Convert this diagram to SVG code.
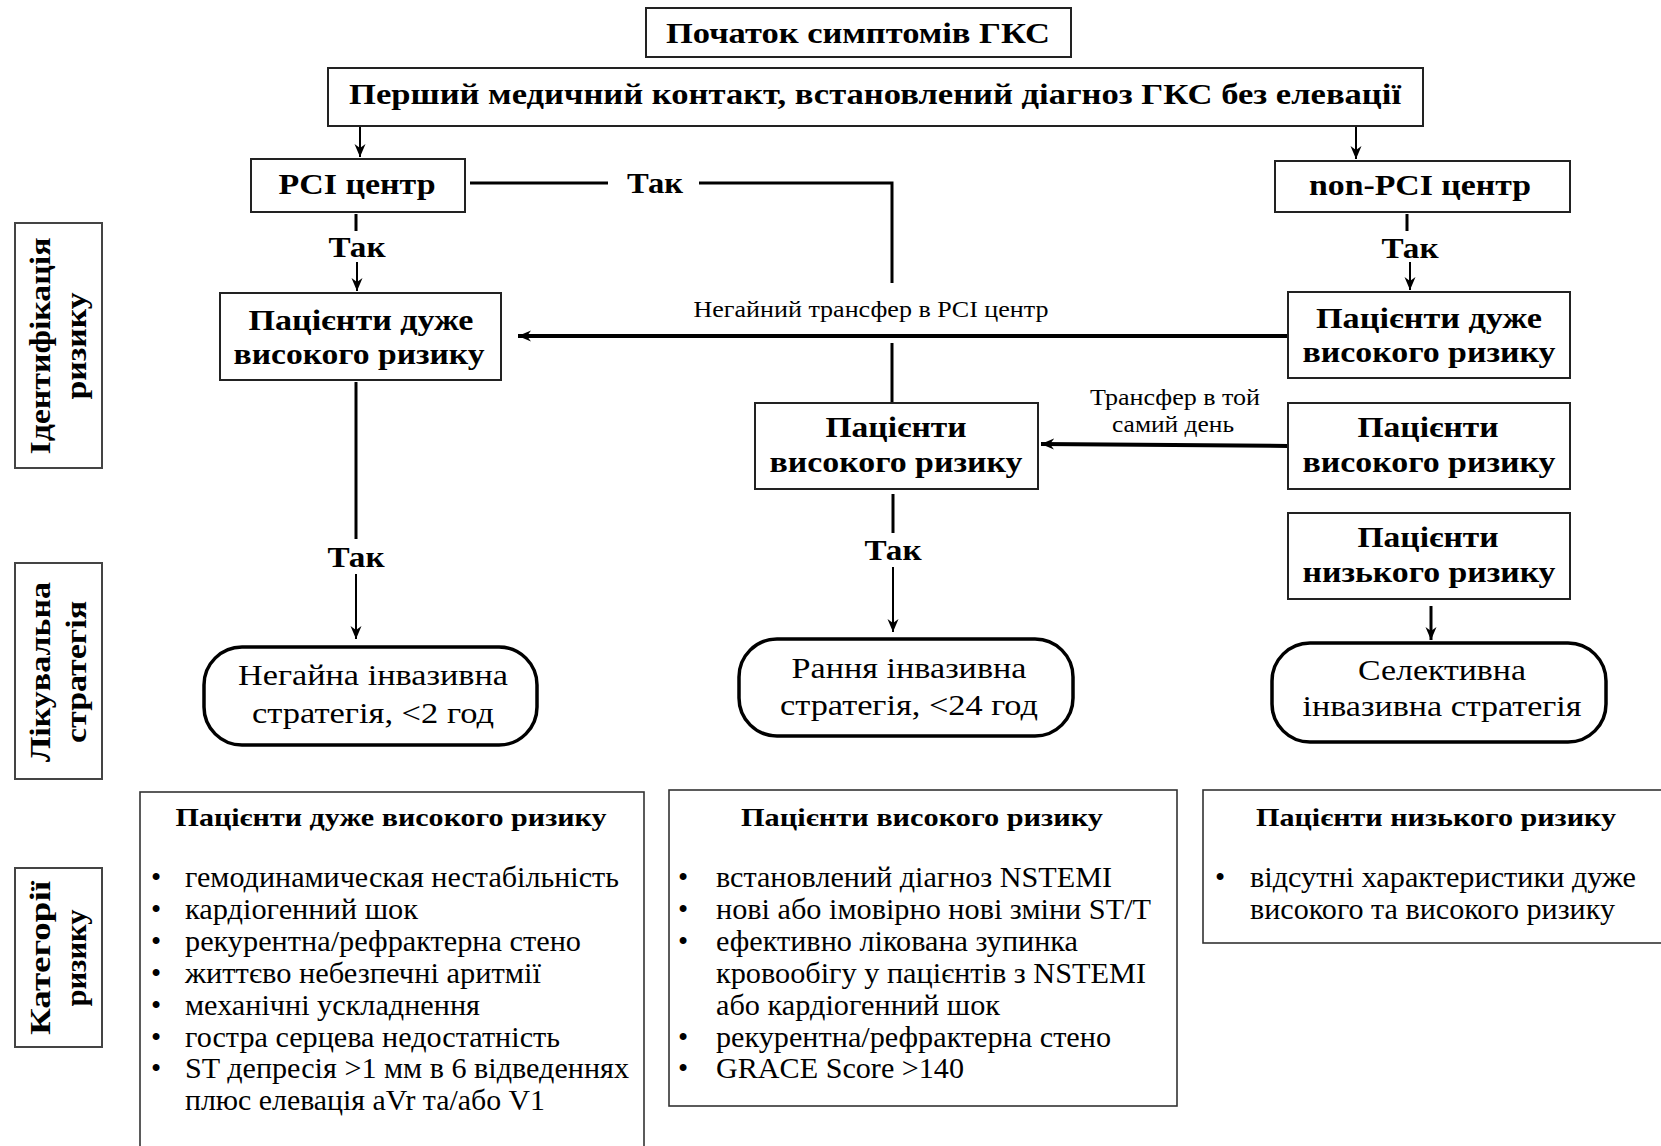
<svg xmlns="http://www.w3.org/2000/svg" width="1661" height="1146" viewBox="0 0 1661 1146">
<defs>
<style>
.box{fill:#fff;stroke:#222;stroke-width:2}
.rbox{fill:#fff;stroke:#000;stroke-width:3.5}
.cat{fill:#fff;stroke:#333;stroke-width:1.6}
.lbl{fill:#fff;stroke:#444;stroke-width:2}
text{font-family:"Liberation Serif","Times New Roman",serif;fill:#000}
.b{font-weight:bold;font-size:30px;text-anchor:middle}
.r{font-size:30px;text-anchor:middle}
.s{font-size:24px;text-anchor:middle}
.t{font-weight:bold;font-size:26px;text-anchor:middle}
.li{font-size:29px}
.v{font-weight:bold;font-size:30px;text-anchor:middle}
.c{stroke:#000;fill:none}
.w2{stroke-width:2}
.w3{stroke-width:3}
.w4{stroke-width:4}
</style>
<marker id="ah" markerUnits="userSpaceOnUse" markerWidth="14" markerHeight="12" refX="13" refY="6" orient="auto">
<path d="M0,0.5 L13,6 L0,11.5 L4,6 z" fill="#000"/>
</marker>
</defs>

<g id="connectors">
<line class="c w2" x1="360" y1="126" x2="360" y2="157" marker-end="url(#ah)"/>
<line class="c w2" x1="1356" y1="126" x2="1356" y2="159" marker-end="url(#ah)"/>
<line class="c w3" x1="356" y1="214" x2="356" y2="231"/>
<line class="c w2" x1="357" y1="262" x2="357" y2="291" marker-end="url(#ah)"/>
<line class="c w3" x1="1407" y1="214" x2="1407" y2="231"/>
<line class="c w2" x1="1410" y1="262" x2="1410" y2="290" marker-end="url(#ah)"/>
<polyline class="c w3" points="470,183 608,183"/>
<polyline class="c w3" points="699,183 892,183 892,283"/>
<line class="c w3" x1="892" y1="343" x2="892" y2="403"/>
<line class="c w4" x1="1288" y1="336" x2="518" y2="336" marker-end="url(#ah)"/>
<line class="c w4" x1="1288" y1="446" x2="1041" y2="444" marker-end="url(#ah)"/>
<line class="c w3" x1="356" y1="382" x2="356" y2="539"/>
<line class="c w2" x1="356" y1="574" x2="356" y2="639" marker-end="url(#ah)"/>
<line class="c w3" x1="893" y1="494" x2="893" y2="533"/>
<line class="c w2" x1="893" y1="567" x2="893" y2="632" marker-end="url(#ah)"/>
<line class="c w3" x1="1431" y1="606" x2="1431" y2="640" marker-end="url(#ah)"/>
<text class="b" x="655" y="193" textLength="56" lengthAdjust="spacingAndGlyphs">Так</text>
<text class="b" x="357" y="257" textLength="57" lengthAdjust="spacingAndGlyphs">Так</text>
<text class="b" x="1410" y="258" textLength="57" lengthAdjust="spacingAndGlyphs">Так</text>
<text class="b" x="356" y="567" textLength="57" lengthAdjust="spacingAndGlyphs">Так</text>
<text class="b" x="893" y="560" textLength="57" lengthAdjust="spacingAndGlyphs">Так</text>
<text class="s" x="871" y="317" textLength="355" lengthAdjust="spacingAndGlyphs">Негайний трансфер в PCI центр</text>
<text class="s" x="1175" y="405" textLength="170" lengthAdjust="spacingAndGlyphs">Трансфер в той</text>
<text class="s" x="1173" y="432" textLength="122" lengthAdjust="spacingAndGlyphs">самий день</text>
</g>

<g id="start">
<rect class="box" x="646" y="8" width="425" height="49"/>
<text class="b" x="858" y="43" textLength="384" lengthAdjust="spacingAndGlyphs">Початок симптомів ГКС</text>
</g>

<g id="first-contact">
<rect class="box" x="328" y="68" width="1095" height="58"/>
<text class="b" x="875" y="104" textLength="1052" lengthAdjust="spacingAndGlyphs">Перший медичний контакт, встановлений діагноз ГКС без елевації</text>
</g>

<g id="pci">
<rect class="box" x="251" y="159" width="214" height="53"/>
<text class="b" x="357" y="194" textLength="157" lengthAdjust="spacingAndGlyphs">PCI центр</text>
</g>

<g id="non-pci">
<rect class="box" x="1275" y="161" width="295" height="51"/>
<text class="b" x="1420" y="195" textLength="222" lengthAdjust="spacingAndGlyphs">non-PCI центр</text>
</g>

<g id="vhr-left">
<rect class="box" x="220" y="293" width="281" height="87"/>
<text class="b" x="361" y="330" textLength="225" lengthAdjust="spacingAndGlyphs">Пацієнти дуже</text>
<text class="b" x="359" y="364" textLength="251" lengthAdjust="spacingAndGlyphs">високого ризику</text>
</g>

<g id="vhr-right">
<rect class="box" x="1288" y="292" width="282" height="86"/>
<text class="b" x="1429" y="328" textLength="226" lengthAdjust="spacingAndGlyphs">Пацієнти дуже</text>
<text class="b" x="1429" y="362" textLength="253" lengthAdjust="spacingAndGlyphs">високого ризику</text>
</g>

<g id="hr-mid">
<rect class="box" x="755" y="403" width="283" height="86"/>
<text class="b" x="896" y="437" textLength="141" lengthAdjust="spacingAndGlyphs">Пацієнти</text>
<text class="b" x="896" y="472" textLength="253" lengthAdjust="spacingAndGlyphs">високого ризику</text>
</g>

<g id="hr-right">
<rect class="box" x="1288" y="403" width="282" height="86"/>
<text class="b" x="1428" y="437" textLength="141" lengthAdjust="spacingAndGlyphs">Пацієнти</text>
<text class="b" x="1429" y="472" textLength="253" lengthAdjust="spacingAndGlyphs">високого ризику</text>
</g>

<g id="lr-right">
<rect class="box" x="1288" y="513" width="282" height="86"/>
<text class="b" x="1428" y="547" textLength="141" lengthAdjust="spacingAndGlyphs">Пацієнти</text>
<text class="b" x="1429" y="582" textLength="253" lengthAdjust="spacingAndGlyphs">низького ризику</text>
</g>

<g id="strategy-immediate">
<rect class="rbox" x="204" y="647" width="333" height="98" rx="38"/>
<text class="r" x="373" y="685" textLength="270" lengthAdjust="spacingAndGlyphs">Негайна інвазивна</text>
<text class="r" x="373" y="723" textLength="242" lengthAdjust="spacingAndGlyphs">стратегія, &lt;2 год</text>
</g>

<g id="strategy-early">
<rect class="rbox" x="739" y="639" width="334" height="97" rx="38"/>
<text class="r" x="909" y="678" textLength="235" lengthAdjust="spacingAndGlyphs">Рання інвазивна</text>
<text class="r" x="909" y="715" textLength="258" lengthAdjust="spacingAndGlyphs">стратегія, &lt;24 год</text>
</g>

<g id="strategy-selective">
<rect class="rbox" x="1272" y="643" width="334" height="99" rx="38"/>
<text class="r" x="1442" y="680" textLength="168" lengthAdjust="spacingAndGlyphs">Селективна</text>
<text class="r" x="1442" y="716" textLength="279" lengthAdjust="spacingAndGlyphs">інвазивна стратегія</text>
</g>

<g id="label-identification">
<rect class="lbl" x="15" y="223" width="87" height="245"/>
<text class="v" transform="translate(50,346) rotate(-90)" textLength="217" lengthAdjust="spacingAndGlyphs">Ідентифікація</text>
<text class="v" transform="translate(86,346) rotate(-90)" textLength="107" lengthAdjust="spacingAndGlyphs">ризику</text>
</g>

<g id="label-strategy">
<rect class="lbl" x="15" y="563" width="87" height="216"/>
<text class="v" transform="translate(50,672) rotate(-90)" textLength="180" lengthAdjust="spacingAndGlyphs">Лікувальна</text>
<text class="v" transform="translate(86,672) rotate(-90)" textLength="142" lengthAdjust="spacingAndGlyphs">стратегія</text>
</g>

<g id="label-categories">
<rect class="lbl" x="15" y="868" width="87" height="179"/>
<text class="v" transform="translate(50,958) rotate(-90)" textLength="154" lengthAdjust="spacingAndGlyphs">Категорії</text>
<text class="v" transform="translate(86,958) rotate(-90)" textLength="97" lengthAdjust="spacingAndGlyphs">ризику</text>
</g>

<g id="cat-very-high">
<rect class="cat" x="140" y="792" width="504" height="370"/>
<text class="t" x="391" y="826" textLength="431" lengthAdjust="spacingAndGlyphs">Пацієнти дуже високого ризику</text>
<g class="li">
<text x="151" y="887">•</text><text x="185" y="887" textLength="434" lengthAdjust="spacingAndGlyphs">гемодинамическая нестабільність</text>
<text x="151" y="919">•</text><text x="185" y="919" textLength="233" lengthAdjust="spacingAndGlyphs">кардіогенний шок</text>
<text x="151" y="951">•</text><text x="185" y="951" textLength="396" lengthAdjust="spacingAndGlyphs">рекурентна/рефрактерна стено</text>
<text x="151" y="983">•</text><text x="185" y="983" textLength="356" lengthAdjust="spacingAndGlyphs">життєво небезпечні аритмії</text>
<text x="151" y="1015">•</text><text x="185" y="1015" textLength="295" lengthAdjust="spacingAndGlyphs">механічні ускладнення</text>
<text x="151" y="1047">•</text><text x="185" y="1047" textLength="375" lengthAdjust="spacingAndGlyphs">гостра серцева недостатність</text>
<text x="151" y="1078">•</text><text x="185" y="1078" textLength="444" lengthAdjust="spacingAndGlyphs">ST депресія &gt;1 мм в 6 відведеннях</text>
<text x="185" y="1110" textLength="360" lengthAdjust="spacingAndGlyphs">плюс елевація aVr та/або V1</text>
</g>
</g>

<g id="cat-high">
<rect class="cat" x="669" y="790" width="508" height="316"/>
<text class="t" x="922" y="826" textLength="362" lengthAdjust="spacingAndGlyphs">Пацієнти високого ризику</text>
<g class="li">
<text x="678" y="887">•</text><text x="716" y="887" textLength="396" lengthAdjust="spacingAndGlyphs">встановлений діагноз NSTEMI</text>
<text x="678" y="919">•</text><text x="716" y="919" textLength="435" lengthAdjust="spacingAndGlyphs">нові або імовірно нові зміни ST/T</text>
<text x="678" y="951">•</text><text x="716" y="951" textLength="362" lengthAdjust="spacingAndGlyphs">ефективно лікована зупинка</text>
<text x="716" y="983" textLength="430" lengthAdjust="spacingAndGlyphs">кровообігу у пацієнтів з NSTEMI</text>
<text x="716" y="1015" textLength="284" lengthAdjust="spacingAndGlyphs">або кардіогенний шок</text>
<text x="678" y="1047">•</text><text x="716" y="1047" textLength="395" lengthAdjust="spacingAndGlyphs">рекурентна/рефрактерна стено</text>
<text x="678" y="1078">•</text><text x="716" y="1078" textLength="248" lengthAdjust="spacingAndGlyphs">GRACE Score &gt;140</text>
</g>
</g>

<g id="cat-low">
<rect class="cat" x="1203" y="790" width="470" height="153"/>
<text class="t" x="1436" y="826" textLength="360" lengthAdjust="spacingAndGlyphs">Пацієнти низького ризику</text>
<g class="li">
<text x="1215" y="887">•</text><text x="1250" y="887" textLength="386" lengthAdjust="spacingAndGlyphs">відсутні характеристики дуже</text>
<text x="1250" y="919" textLength="365" lengthAdjust="spacingAndGlyphs">високого та високого ризику</text>
</g>
</g>
</svg>
